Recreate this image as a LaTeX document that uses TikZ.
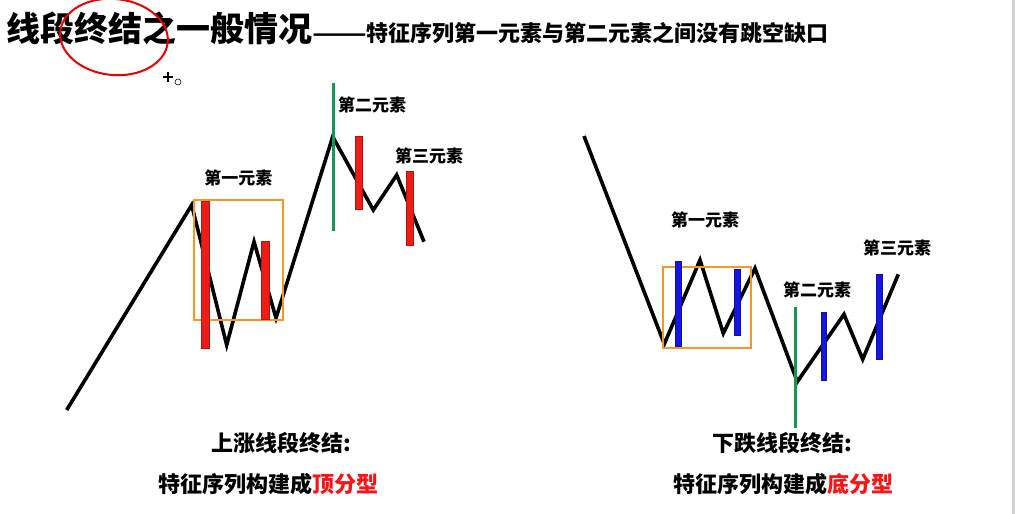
\documentclass[tikz,border=0pt]{standalone}
\usepackage{fontspec}
\usepackage{graphicx}
\setmainfont{Noto Sans CJK SC}
\definecolor{barred}{RGB}{236,28,22}
\definecolor{barblue}{RGB}{22,22,225}
\definecolor{boxorange}{RGB}{244,150,40}
\definecolor{markgreen}{RGB}{22,150,82}
\definecolor{fenxing}{RGB}{250,20,20}

\begin{document}
\begin{tikzpicture}[x=1pt, y=-1pt,
  wave/.style={line width=3.6pt, black, line join=miter},
  redbar/.style={fill=barred, draw=barred!75!black, line width=0.5pt},
  bluebar/.style={fill=barblue, draw=barblue!75!black, line width=0.5pt},
  elembox/.style={draw=boxorange, line width=1.8pt},
  peakmark/.style={draw=markgreen, line width=2.8pt},
  lbl/.style={font=\fontsize{17pt}{17pt}\selectfont\bfseries, inner sep=0pt},
  capt/.style={font=\fontsize{22pt}{22pt}\selectfont\bfseries, inner sep=0pt}]
  \useasboundingbox (0,0) rectangle (1015,514);
  \fill[white] (0,0) rectangle (1015,514);
  \fill[black!18] (1012,0) rectangle (1015,514);

  % --- heading ---
  \node[anchor=base west, inner sep=0pt, font=\fontsize{34pt}{34pt}\selectfont\bfseries]
    (title) at (6,41) {线段终结之一般情况};
  \node[anchor=base west, inner sep=0pt, font=\fontsize{22pt}{22pt}\selectfont\bfseries]
    (subtitle) at (312,41) {\scalebox{1.45}[1]{——}特征序列第一元素与第二元素之间没有跳空缺口};
  \draw[red!90!black, line width=2pt, rotate around={-6:(114,37)}] (114,37) ellipse [x radius=54, y radius=38];
  % mouse pointer
  \draw[line width=1.6pt] (163,77) -- (173,77) (168,72) -- (168,82);
  \draw[line width=0.6pt] (178,82) circle (3);

  % --- up segment ---
  \begin{scope}
    \draw[wave] (66.7,410) -- (191.7,205) -- (226.7,345) -- (254,241.7) -- (276,318)
      -- (332.7,136.7) -- (373.3,210) -- (396.7,175) -- (424,241.7);
    \draw[elembox] (194.3,200) rectangle (283.3,320);
    \filldraw[redbar] (201.7,201.7) rectangle (209,348.3);
    \filldraw[redbar] (261.7,241.7) rectangle (269,319.3);
    \filldraw[redbar] (355,136.7) rectangle (362.3,209.3);
    \filldraw[redbar] (406,171.7) rectangle (413.3,245);
    \draw[peakmark] (333.3,82.7) -- (333.3,231);
    \node[lbl] (upfirst) at (238.3,178.3) {第一元素};
    \node[lbl] (upsecond) at (372,105) {第二元素};
    \node[lbl] (upthird) at (429,156) {第三元素};
    \node[capt] (upend) at (281,443) {上涨线段终结:};
    \node[capt] (uptop) at (268.8,484) {特征序列构建成\textcolor{fenxing}{顶分型}};
  \end{scope}

  % --- down segment ---
  \begin{scope}
    \draw[wave] (584,136) -- (664.3,344) -- (700,260) -- (723.3,333.3) -- (755,268.3)
      -- (797.3,381.7) -- (844,314.3) -- (862.7,359.3) -- (898.3,274.3);
    \draw[elembox] (662.7,267.3) rectangle (751,348.3);
    \filldraw[bluebar] (675,261) rectangle (681,346.7);
    \filldraw[bluebar] (734,269) rectangle (740.7,335.7);
    \filldraw[bluebar] (821,312.7) rectangle (826.7,380.7);
    \filldraw[bluebar] (876.7,274.3) rectangle (882.3,359.3);
    \draw[peakmark] (795.3,306.7) -- (795.3,428);
    \node[lbl] (dnfirst) at (705,220) {第一元素};
    \node[lbl] (dnsecond) at (817,290) {第二元素};
    \node[lbl] (dnthird) at (897,248.3) {第三元素};
    \node[capt] (dnend) at (782.5,443) {下跌线段终结:};
    \node[capt] (dnbottom) at (783.3,484) {特征序列构建成\textcolor{fenxing}{底分型}};
  \end{scope}
\end{tikzpicture}
\end{document}
